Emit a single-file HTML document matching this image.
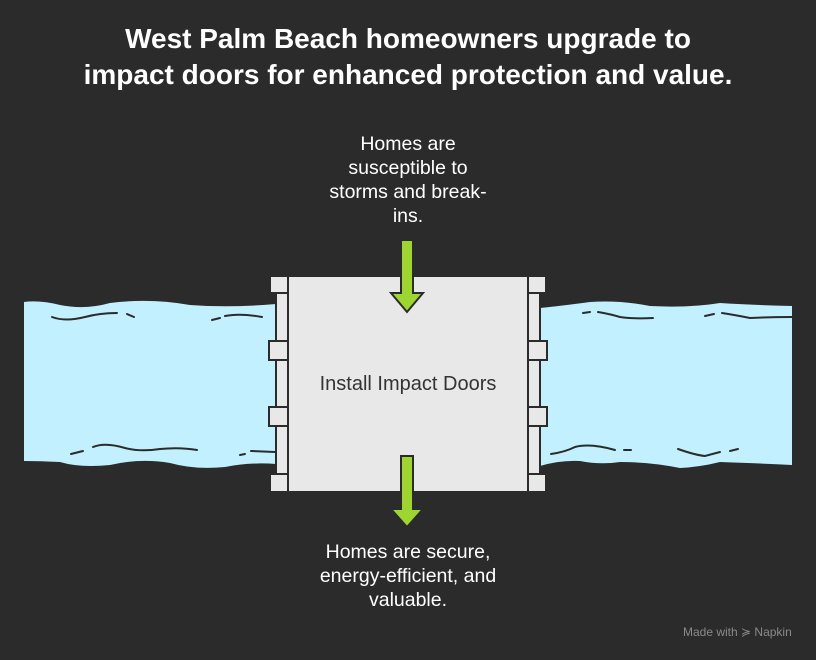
<!DOCTYPE html>
<html><head><meta charset="utf-8"><style>
html,body{margin:0;padding:0;background:#2b2b2b;}
body{width:816px;height:660px;position:relative;overflow:hidden;font-family:"Liberation Sans",sans-serif;}
.t{position:absolute;color:#fff;text-align:center;}
</style></head><body>
<div class="t" style="left:0;width:816px;top:21px;font-size:28px;font-weight:bold;line-height:36px;">West Palm Beach homeowners upgrade to<br>impact doors for enhanced protection and value.</div>
<svg width="816" height="660" style="position:absolute;left:0;top:0">
<g fill="#c3f0fe">
<path d="M24 302 Q40 300 60 305 Q85 310 110 303 Q150 298 190 305 Q230 308 276 304 L276 464 Q250 462 225 467 Q195 470 170 463 Q140 458 110 465 Q80 468 60 462 Q40 461 24 461 Z"/>
<path d="M540 308 Q560 306 590 302 Q620 300 650 306 Q690 308 720 303 Q750 305 792 306 L792 465 Q750 463 720 462 Q700 467 680 468 Q650 462 620 462 Q600 465 580 461 Q560 460 540 466 Z"/>
</g>
<g fill="none" stroke="#2b2b2b" stroke-width="2" stroke-linecap="round">
<path d="M52 317 Q65 322 85 317 Q100 313 117 313"/><path d="M127 314 L134 317"/>
<path d="M212 320 L220 318"/><path d="M225 316 Q240 313 262 317"/>
<path d="M71 454 L83 451"/><path d="M93 447 Q105 442 125 448 Q140 452 160 449 Q180 447 197 450"/>
<path d="M240 455 L245 454"/><path d="M251 451 L275 452"/>
<path d="M583 313 L590 312"/><path d="M598 312 Q610 314 620 317 Q633 319 653 318"/>
<path d="M705 316 L714 314"/><path d="M722 313 Q735 315 750 318 Q770 317 792 317"/>
<path d="M551 454 Q565 452 575 447 Q590 443 615 450"/><path d="M624 450 L631 450"/>
<path d="M678 449 Q695 455 705 456 L720 452"/><path d="M730 451 L738 449"/>
</g>
<g fill="#e8e8e8" stroke="#2b2b2b" stroke-width="2">
<rect x="287" y="276" width="241" height="216"/>
<rect x="276" y="292" width="12" height="182"/>
<rect x="528" y="292" width="12" height="182"/>
<rect x="270" y="276" width="18" height="17"/>
<rect x="270" y="474" width="18" height="18"/>
<rect x="269" y="341" width="19" height="19"/>
<rect x="269" y="407" width="19" height="19"/>
<rect x="528" y="276" width="18" height="17"/>
<rect x="528" y="474" width="18" height="18"/>
<rect x="528" y="341" width="19" height="19"/>
<rect x="528" y="407" width="19" height="19"/>
</g>
<g fill="#9ed530" stroke="#2b2b2b" stroke-width="2" stroke-linejoin="miter">
<path d="M401 240 L413 240 L413 293 L423 293 L407 312 L391 293 L401 293 Z"/>
<path d="M401 456 L413 456 L413 509 L423 509 L407 527 L391 509 L401 509 Z"/>
</g>
</svg>
<div class="t" style="left:0;width:816px;top:373px;font-size:20px;color:#333;">Install Impact Doors</div>
<div class="t" style="left:283px;width:250px;top:132px;font-size:19.5px;line-height:24px;">Homes are<br>susceptible to<br>storms and break-<br>ins.</div>
<div class="t" style="left:258px;width:300px;top:540px;font-size:19.5px;line-height:24px;">Homes are secure,<br>energy-efficient, and<br>valuable.</div>
<div class="t" style="left:683px;top:625px;font-size:12px;color:#8a8a8a;">Made with ≽ Napkin</div>
</body></html>
